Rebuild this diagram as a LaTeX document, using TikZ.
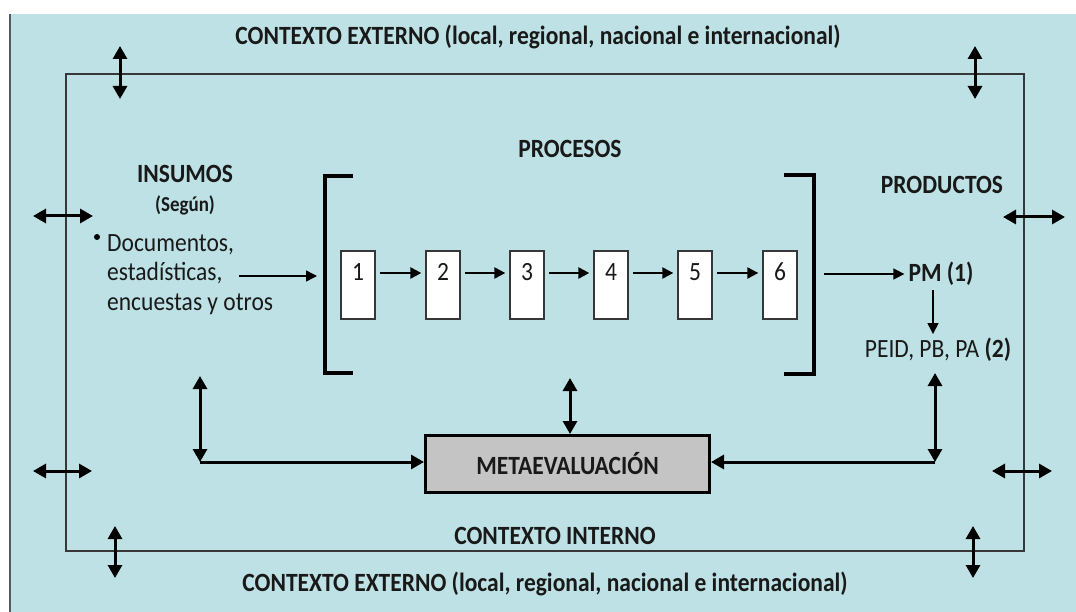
\documentclass[tikz,border=0pt]{standalone}
\usepackage{fontspec}
\setmainfont{Carlito}
\usetikzlibrary{arrows.meta}
\definecolor{bgblue}{RGB}{189,225,228}
\definecolor{metagray}{RGB}{196,196,196}
\definecolor{rimgray}{RGB}{55,55,55}
\newcommand{\vs}[1]{\scalebox{1}[1.12]{#1}}
\tikzset{
  lbl/.style={font=\fontsize{23.5}{28}\selectfont\bfseries, inner sep=0pt, text=black!90},
  txt/.style={font=\fontsize{23.5}{28}\selectfont, inner sep=0pt, text=black!90},
  bigarr/.style={line width=3pt, {Triangle[length=13pt,width=14pt]}-{Triangle[length=13pt,width=14pt]}},
  onearr/.style={line width=3pt, -{Triangle[length=13pt,width=14pt]}},
  chainarr/.style={line width=2.3pt, -{Triangle[length=11pt,width=11pt]}},
  thinarr/.style={line width=1.6pt, -{Triangle[length=11pt,width=11pt]}},
  stepbox/.style={draw=rimgray, fill=white, line width=1.3pt, minimum width=34pt, minimum height=68pt,
    inner sep=0pt, font=\fontsize{23.5}{28}\selectfont, text=black!90, text height=14pt, text depth=24pt},
  bracket/.style={line width=3.2pt, black},
}
\begin{document}
\begin{tikzpicture}[x=1pt,y=-1pt]
\useasboundingbox (0,0) rectangle (1076,612);
\fill[white] (0,0) rectangle (1076,612);
\fill[bgblue] (10,14) rectangle (1076,612);
\draw[line width=2pt, black!65] (10,14) -- (10,612);
% inner context rectangle
\draw[line width=1.6pt, rimgray] (66,74) rectangle (1024,551);

% titles
\node[lbl] (ctop) at (538,37) {\vs{CONTEXTO EXTERNO (local, regional, nacional e internacional)}};
\node[lbl] (cbot) at (545,584) {\vs{CONTEXTO EXTERNO (local, regional, nacional e internacional)}};
\node[lbl] (cint) at (555,536) {\vs{CONTEXTO INTERNO}};

% context arrows
\coordinate (t1a) at (120,46);  \coordinate (t1b) at (120,99);
\coordinate (t2a) at (975,46);  \coordinate (t2b) at (975,99);
\coordinate (u1a) at (115,526); \coordinate (u1b) at (115,578);
\coordinate (u2a) at (973,526); \coordinate (u2b) at (973,578);
\coordinate (l1a) at (33,216);  \coordinate (l1b) at (93,216);
\coordinate (l2a) at (33,471);  \coordinate (l2b) at (92,471);
\coordinate (r1a) at (1003,217); \coordinate (r1b) at (1065,217);
\coordinate (r2a) at (992,471);  \coordinate (r2b) at (1052,471);
\foreach \p in {t1,t2,u1,u2,l1,l2,r1,r2} { \draw[bigarr] (\p a) -- (\p b); }

% insumos
\node[lbl] (insumos) at (185,174) {\vs{INSUMOS}};
\node[font=\fontsize{19}{22}\selectfont\bfseries, inner sep=0pt, text=black!90] (segun) at (185,205) {\vs{(Según)}};
\node[txt, anchor=west, font=\fontsize{23.5}{26.3}\selectfont] (docs) at (107,275)
  {\vs{\begin{tabular}{@{}l@{}}Documentos,\\estadísticas,\\encuestas y otros\end{tabular}}};
\fill (97,237) circle (3pt);

% procesos
\node[lbl] (procesos) at (570,149) {\vs{PROCESOS}};
\draw[bracket] (353,176) -- (325,176) -- (325,373) -- (353,373);
\draw[bracket] (784,175) -- (814,175) -- (814,374) -- (784,374);
\coordinate (lbr) at (325,276);
\coordinate (rbr) at (814,274);

\foreach \i/\x in {1/358,2/443,3/527,4/611,5/695,6/780} {
  \node[stepbox] (b\i) at (\x,285) {\vs{\i}};
}
\foreach \i/\j in {1/2,2/3,3/4,4/5,5/6} {
  \draw[chainarr, shorten <=4pt, shorten >=4pt] ([yshift=12pt]b\i.east) -- ([yshift=12pt]b\j.west);
}
\coordinate (din) at (239,276);
\draw[thinarr] (din) -- ([xshift=-8pt]lbr);

% productos
\node[lbl] (productos) at (942,185) {\vs{PRODUCTOS}};
\node[lbl] (pm) at (941,274) {\vs{PM (1)}};
\node[txt] (peid) at (938,350) {\vs{PEID, PB, PA \textbf{(2)}}};
\draw[thinarr] ([xshift=10pt]rbr) -- ([xshift=-4pt]pm.west);
\draw[thinarr, line width=1.4pt] ([xshift=-8pt, yshift=-4pt]pm.south) -- ([xshift=-5pt, yshift=4pt]peid.north);

% metaevaluacion
\node[draw=black, line width=3pt, fill=metagray, minimum width=284pt, minimum height=57pt,
  font=\fontsize{23.5}{28}\selectfont\bfseries, text=black!90, inner sep=0pt] (meta) at (567.5,464) {\vs{METAEVALUACIÓN}};

\coordinate (lt) at (200,376); \coordinate (lc) at (200,462);
\draw[bigarr] (lt) -- (lc);
\draw[onearr] (lc) -- (lc -| meta.west);

\coordinate (mt) at (570,378);
\draw[bigarr] (mt) -- (mt |- meta.north);

\coordinate (rt) at (935,373); \coordinate (rc) at (935,462);
\draw[bigarr] (rt) -- (rc);
\draw[onearr] (rc) -- (rc -| meta.east);
\end{tikzpicture}
\end{document}
